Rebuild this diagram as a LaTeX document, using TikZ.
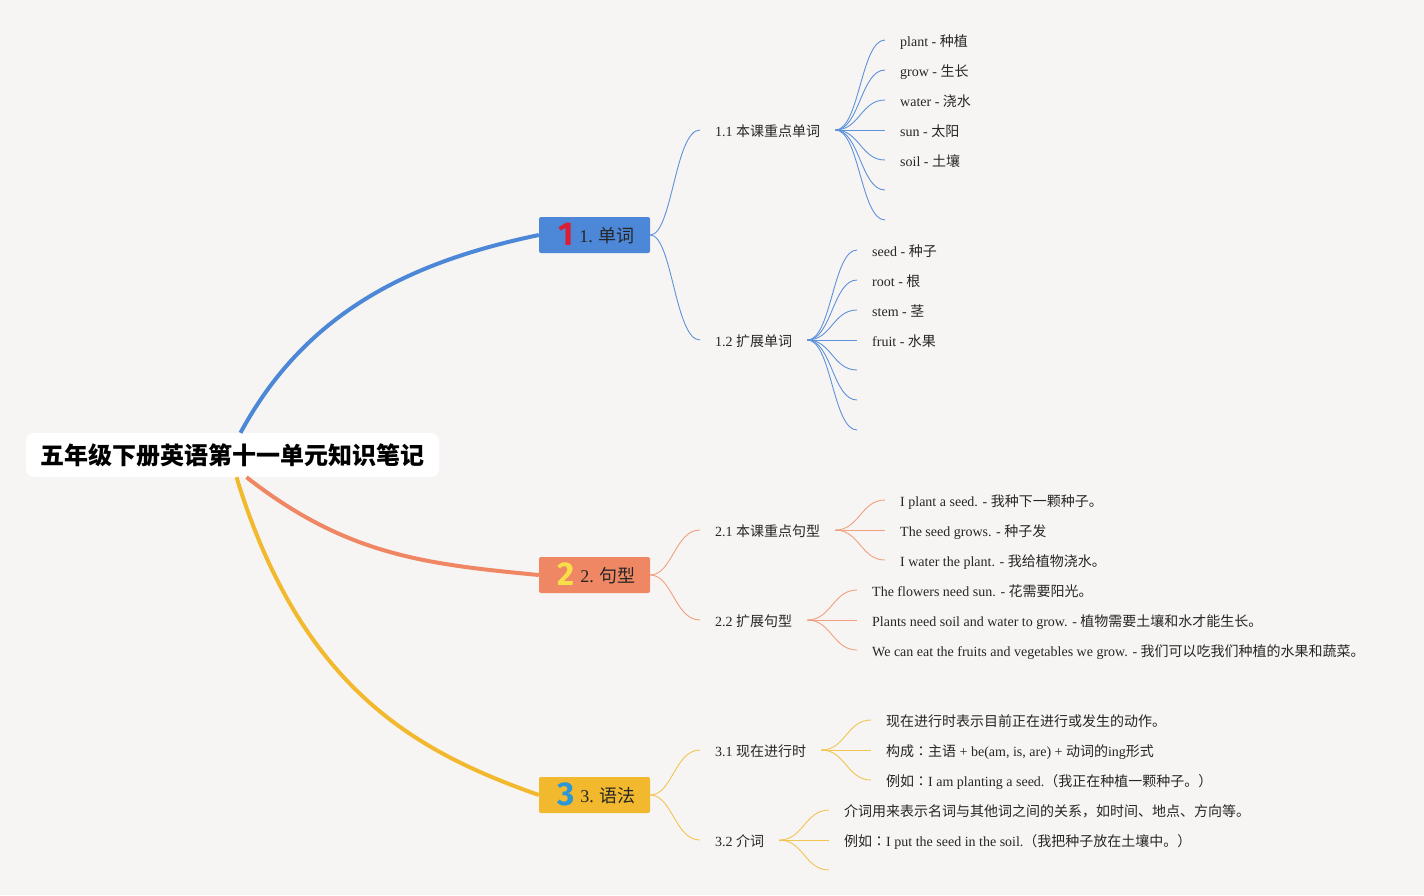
\documentclass[tikz,border=0pt]{standalone}
\usepackage{fontspec}
\setmainfont{Liberation Serif}
\newfontfamily\cjk{Noto Sans CJK SC}
\newfontfamily\cjkj{Noto Sans CJK JP}
\newfontfamily\numfont{Fira Sans}
\newcommand{\zh}[1]{{\cjk #1}}
\newcommand{\zcolon}{{\cjkj ：}}
\newcommand{\bnum}[2]{\hspace{4pt}\raisebox{-3pt}{\fontsize{33}{33}\selectfont\numfont\bfseries\textcolor{#1}{#2}}\hspace{6pt}}
\usetikzlibrary{calc}
\definecolor{bg}{HTML}{F7F5F3}
\definecolor{txt}{HTML}{262626}
\definecolor{cA}{HTML}{4C87D8}
\definecolor{cB}{HTML}{F08764}
\definecolor{cC}{HTML}{F2B92F}
\definecolor{lA}{HTML}{5E92DA}
\definecolor{lB}{HTML}{F0A07F}
\definecolor{lC}{HTML}{F2C452}
\definecolor{nA}{HTML}{DC1E35}
\definecolor{nB}{HTML}{F8DF4A}
\definecolor{nC}{HTML}{2A97D6}
\tikzset{
  rootbox/.style={fill=white, rounded corners=8pt, minimum width=413pt, minimum height=44pt, inner sep=0pt, font=\fontsize{24}{28}\selectfont, text=black},
  branchbox/.style={minimum width=111pt, minimum height=36pt, rounded corners=2pt, inner sep=0pt, text height=18pt, text depth=2.4pt, font=\fontsize{18}{20}\selectfont, text=txt},
  subbox/.style={anchor=west, inner xsep=15pt, inner ysep=3pt, text height=13.5pt, text depth=0.5pt, font=\fontsize{14}{16}\selectfont, text=txt},
  leafbox/.style={anchor=west, inner xsep=15pt, inner ysep=3pt, text height=13pt, text depth=1pt, font=\fontsize{14}{16}\selectfont, text=txt},
  mainline/.style={line width=4pt},
  thinline/.style={line width=0.9pt},
}
\begin{document}
\begin{tikzpicture}[x=1pt,y=-1pt]
\fill[bg] (0,0) rectangle (1424,895);
\useasboundingbox (0,0) rectangle (1424,895);

% root
\node[rootbox] (root) at (232.5,455) {\zh{\bfseries 五年级下册英语第十一单元知识笔记}};

% branches
\node[branchbox, fill=cA] (b1) at (594.5,235) {\bnum{nA}{1}1. \zh{单词}};
\node[branchbox, fill=cB] (b2) at (594.5,575) {\bnum{nB}{2}2. \zh{句型}};
\node[branchbox, fill=cC] (b3) at (594.5,795) {\bnum{nC}{3}3. \zh{语法}};

\draw[mainline, draw=cA] ($(root.north)+(8,0)$) .. controls (309,306) and (420,260) .. (b1.west);
\draw[mainline, draw=cB] ($(root.south)+(14,0)$) .. controls (346,555) and (424,564) .. (b2.west);
\draw[mainline, draw=cC] ($(root.south)+(4,0)$) .. controls (302,692) and (420,753) .. (b3.west);

% sub nodes
\node[subbox] (s11) at (700,130) {1.1 \zh{本课重点单词}};
\node[subbox] (s12) at (700,340) {1.2 \zh{扩展单词}};
\node[subbox] (s21) at (700,530) {2.1 \zh{本课重点句型}};
\node[subbox] (s22) at (700,620) {2.2 \zh{扩展句型}};
\node[subbox] (s31) at (700,750) {3.1 \zh{现在进行时}};
\node[subbox] (s32) at (700,840) {3.2 \zh{介词}};

\foreach \b/\s/\c in {b1/s11/lA, b1/s12/lA, b2/s21/lB, b2/s22/lB, b3/s31/lC, b3/s32/lC}
  \draw[thinline, draw=\c] (\b.east) .. controls +(22,0) and +(-25,0) .. (\s.west);

% leaves 1.1
\foreach \yy/\t [count=\i] in {40/{plant - \zh{种植}}, 70/{grow - \zh{生长}}, 100/{water - \zh{浇水}}, 130/{sun - \zh{太阳}}, 160/{soil - \zh{土壤}}, 190/{}, 220/{}}{
  \node[leafbox] (a\i) at (885,\yy) {\t};
  \draw[thinline, draw=lA] (s11.east) .. controls +(24,0) and +(-24,0) .. (a\i.west);
}
% leaves 1.2
\foreach \yy/\t [count=\i] in {250/{seed - \zh{种子}}, 280/{root - \zh{根}}, 310/{stem - \zh{茎}}, 340/{fruit - \zh{水果}}, 370/{}, 400/{}, 430/{}}{
  \node[leafbox] (b\i) at (857,\yy) {\t};
  \draw[thinline, draw=lA] (s12.east) .. controls +(24,0) and +(-24,0) .. (b\i.west);
}
% leaves 2.1
\foreach \yy/\t [count=\i] in {500/{I plant a seed. - \zh{我种下一颗种子。}}, 530/{The seed grows. - \zh{种子发}}, 560/{I water the plant. - \zh{我给植物浇水。}}}{
  \node[leafbox] (c\i) at (885,\yy) {\t};
  \draw[thinline, draw=lB] (s21.east) .. controls +(24,0) and +(-24,0) .. (c\i.west);
}
% leaves 2.2
\foreach \yy/\t [count=\i] in {590/{The flowers need sun. - \zh{花需要阳光。}}, 620/{Plants need soil and water to grow. - \zh{植物需要土壤和水才能生长。}}, 650/{We can eat the fruits and vegetables we grow. - \zh{我们可以吃我们种植的水果和蔬菜。}}}{
  \node[leafbox] (d\i) at (857,\yy) {\t};
  \draw[thinline, draw=lB] (s22.east) .. controls +(24,0) and +(-24,0) .. (d\i.west);
}
% leaves 3.1
\foreach \yy/\t [count=\i] in {720/{\zh{现在进行时表示目前正在进行或发生的动作。}}, 750/{\zh{构成}\zcolon\zh{主语} + be(am, is, are) + \zh{动词的}ing\zh{形式}}, 780/{\zh{例如}\zcolon I am planting a seed.\zh{（我正在种植一颗种子。）}}}{
  \node[leafbox] (e\i) at (871,\yy) {\t};
  \draw[thinline, draw=lC] (s31.east) .. controls +(24,0) and +(-24,0) .. (e\i.west);
}
% leaves 3.2
\foreach \yy/\t [count=\i] in {810/{\zh{介词用来表示名词与其他词之间的关系，如时间、地点、方向等。}}, 840/{\zh{例如}\zcolon I put the seed in the soil.\zh{（我把种子放在土壤中。）}}, 870/{}}{
  \node[leafbox] (f\i) at (829,\yy) {\t};
  \draw[thinline, draw=lC] (s32.east) .. controls +(24,0) and +(-24,0) .. (f\i.west);
}
\end{tikzpicture}
\end{document}
